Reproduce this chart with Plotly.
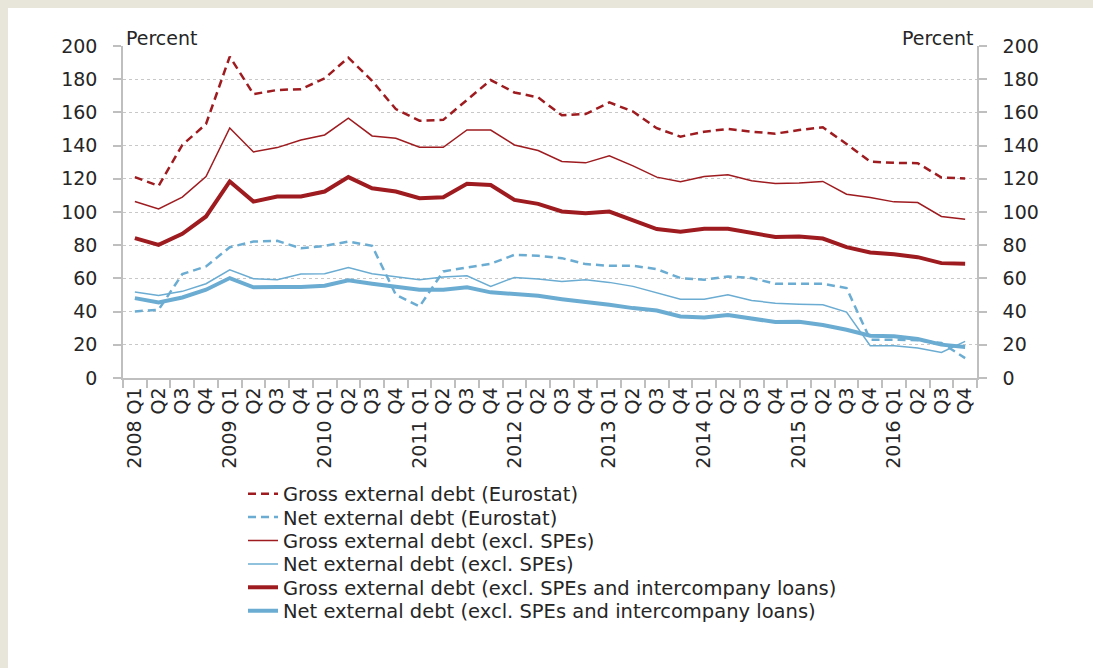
import plotly.graph_objects as go

years = list(range(2008, 2017))
quarters = ["Q1", "Q2", "Q3", "Q4"]
categories = [f"{y} {q}" for y in years for q in quarters]
tick_labels = [f"{y} {q}" if q == "Q1" else q for y in years for q in quarters]

gross_eurostat = [121, 115.7, 140.4, 153, 193.6, 171, 173.5, 174, 180.5, 193, 179, 162,
                  155, 155.5, 167.5, 179.5, 172, 169, 158.3, 159, 166, 160.5, 150.5, 145.4,
                  148.4, 150, 148.4, 147.2, 149.4, 151, 141, 130.4, 129.6, 129.4, 120.8, 120.2]
net_eurostat = [40.1, 41.1, 62.6, 67.2, 78.8, 82.2, 82.6, 78.2, 79.6, 82.2, 79.6, 50.2,
                43.1, 64.2, 66.6, 68.8, 74.2, 73.6, 72.2, 68.6, 67.6, 67.6, 65.6, 60.2,
                59.2, 61.2, 60.2, 56.8, 56.8, 56.8, 54.2, 23.1, 23.1, 22.7, 21.1, 12]
gross_excl_spe = [106.3, 101.9, 109, 121.4, 150.6, 136.2, 138.8, 143.4, 146.4, 156.5, 145.8, 144.4,
                  139, 139, 149.4, 149.4, 140.4, 137, 130.4, 129.6, 133.8, 127.8, 121, 118.2,
                  121.4, 122.4, 118.8, 117.2, 117.4, 118.4, 110.7, 108.7, 106.1, 105.7, 97.3, 95.7]
net_excl_spe = [51.8, 49.7, 52.2, 56.8, 65.2, 59.8, 59.2, 62.6, 62.8, 66.6, 62.8, 61.2,
                59.2, 60.8, 61.6, 55.2, 60.6, 59.6, 58.2, 59.2, 57.6, 55.2, 51.2, 47.5,
                47.5, 50.2, 46.7, 45.1, 44.5, 44.1, 39.7, 19.5, 19.5, 18.1, 15.4, 22.1]
gross_excl_spe_icl = [84.3, 80.2, 86.9, 97.3, 118.4, 106.3, 109.3, 109.3, 112.3, 121, 114.3, 112.3,
                      108.3, 108.9, 117, 116.3, 107.3, 104.9, 100.3, 99.3, 100.3, 94.9, 89.7, 88.1,
                      89.9, 89.9, 87.3, 84.9, 85.3, 84, 78.8, 75.6, 74.6, 72.8, 69.2, 68.8]
net_excl_spe_icl = [48.1, 45.5, 48.5, 53.2, 60.2, 54.6, 54.8, 54.8, 55.6, 58.8, 56.8, 55.2,
                    53.2, 53.2, 54.6, 51.6, 50.8, 49.5, 47.5, 46.1, 44.1, 42.1, 40.7, 37.1,
                    36.5, 37.9, 35.5, 33.7, 33.9, 31.9, 29.1, 25.5, 25.1, 23.5, 20.1, 18.7]

RED = "#9E1B1F"
BLUE = "#6BACD2"
FONT = "DejaVu Sans"
TXT = "#262626"
AXC = "#BFBFBF"
BEIGE = "#E8E6DA"

W, H = 1093, 668
L, R, T, B = 123, 116, 46, 290
PW, PH = W - L - R, H - T - B

series = [
    ("Gross external debt (Eurostat)", gross_eurostat, RED, 2.5, "8px,5px"),
    ("Net external debt (Eurostat)", net_eurostat, BLUE, 2.5, "8px,5px"),
    ("Gross external debt (excl. SPEs)", gross_excl_spe, RED, 1.5, "solid"),
    ("Net external debt (excl. SPEs)", net_excl_spe, BLUE, 1.5, "solid"),
    ("Gross external debt (excl. SPEs and intercompany loans)", gross_excl_spe_icl, RED, 4, "solid"),
    ("Net external debt (excl. SPEs and intercompany loans)", net_excl_spe_icl, BLUE, 4, "solid"),
]

legend_names = ["legend", "legend2", "legend3", "legend4", "legend5", "legend6"]
legend_centers = [494, 517.4, 540.8, 564.2, 587.6, 611]  # page pixel coords

fig = go.Figure()
for (name, vals, col, w, dash), lg in zip(series, legend_names):
    fig.add_trace(go.Scatter(x=categories, y=vals, name=name, mode="lines", legend=lg,
                             line=dict(color=col, width=w, dash=dash)))
# invisible copy on right axis so it is drawn
fig.add_trace(go.Scatter(x=categories, y=net_excl_spe_icl, yaxis="y2", mode="lines",
                         line=dict(width=0), opacity=0, showlegend=False, hoverinfo="skip"))

axis_common = dict(range=[0, 200], dtick=20, tick0=0, showline=True, linecolor=AXC, linewidth=1.5,
                   ticks="outside", ticklen=8, tickcolor=AXC, tickwidth=1.5, ticklabelstandoff=12,
                   tickfont=dict(family=FONT, size=19, color=TXT), zeroline=False)

legends = {}
for lg, yc in zip(legend_names, legend_centers):
    legends[lg] = dict(x=(243 - L) / PW, xanchor="left", yref="container", y=1 - yc / H,
                       yanchor="middle", font=dict(family=FONT, size=19.5, color=TXT),
                       bgcolor="rgba(0,0,0,0)", borderwidth=0)

fig.update_layout(
    width=W, height=H,
    margin=dict(l=L, r=R, t=T, b=B, autoexpand=False),
    paper_bgcolor=BEIGE,
    plot_bgcolor="rgba(0,0,0,0)",
    font=dict(family=FONT, color=TXT),
    showlegend=True,
    xaxis=dict(type="category", categoryorder="array", categoryarray=categories,
               tickmode="array", tickvals=categories, ticktext=tick_labels,
               tickangle=-90, tickson="boundaries", ticks="outside", ticklen=8,
               tickcolor=AXC, tickwidth=1.5, showline=True, linecolor=AXC, linewidth=1.5,
               showgrid=False, tickfont=dict(family=FONT, size=19, color=TXT),
               range=[-0.5, 35.5], automargin=False),
    yaxis=dict(**axis_common, side="left", showgrid=True, gridcolor="#C8C8C8",
               griddash="dot", gridwidth=1, automargin=False),
    yaxis2=dict(**axis_common, side="right", overlaying="y", anchor="x", showgrid=False,
                automargin=False),
    shapes=[dict(type="rect", xref="paper", yref="paper",
                 x0=(8 - L) / PW, x1=(W + 20 - L) / PW,
                 y0=-(B + 20) / PH, y1=(PH + T - 8) / PH,
                 fillcolor="white", line=dict(width=0), layer="below")],
    annotations=[
        dict(text="Percent", xref="paper", yref="paper", x=0.0, y=1.0, xanchor="left",
             yanchor="bottom", showarrow=False, font=dict(family=FONT, size=19, color=TXT), xshift=1,
             yshift=-5),
        dict(text="Percent", xref="paper", yref="paper", x=1.0, y=1.0, xanchor="right",
             yanchor="bottom", showarrow=False, font=dict(family=FONT, size=19, color=TXT), xshift=-1,
             yshift=-5),
    ],
    **legends,
)

fig.write_html(
    "out.html",
    config={"displayModeBar": False},
    post_script="document.body.style.margin='0px';document.body.style.overflow='hidden';",
)
